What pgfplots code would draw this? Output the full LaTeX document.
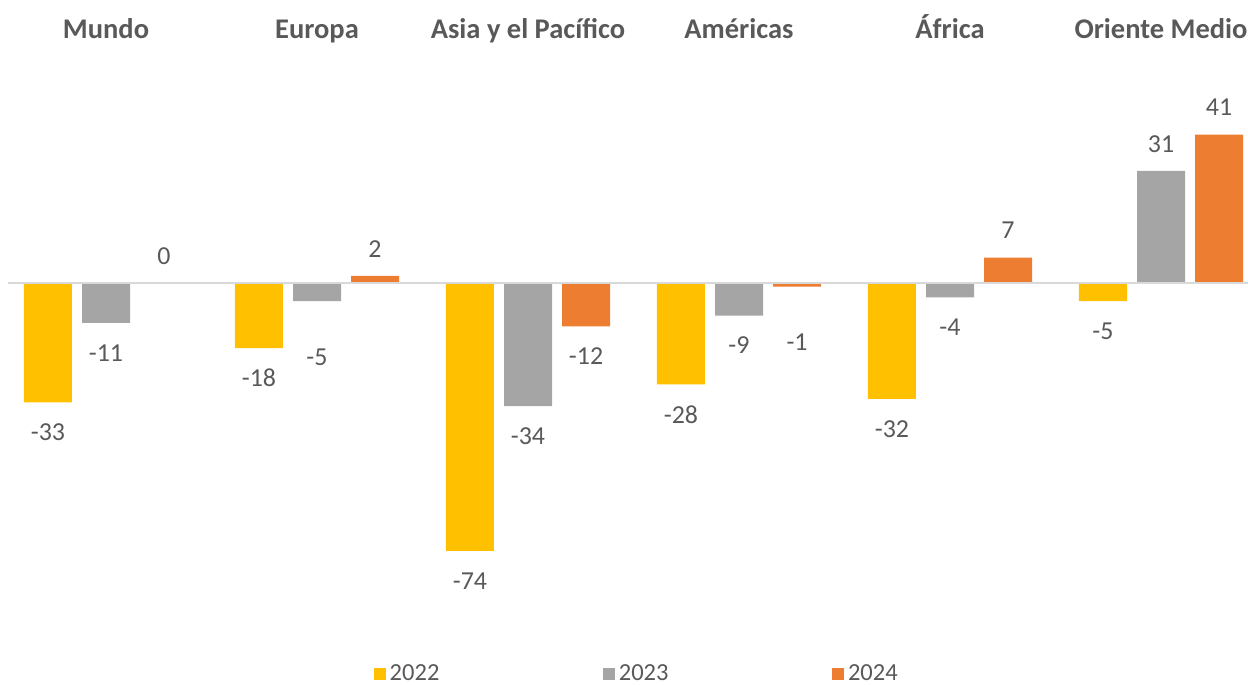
\documentclass[border=0pt]{standalone}
\usepackage{fontspec}
\setmainfont{Carlito}
\usepackage{pgfplots}
\usepackage{pgfplotstable}
\pgfplotsset{compat=1.18}
\definecolor{cY}{HTML}{FFC000}
\definecolor{cG}{HTML}{A5A5A5}
\definecolor{cO}{HTML}{ED7D31}
\definecolor{txt}{HTML}{595959}
\definecolor{zl}{HTML}{D9D9D9}
\pgfplotstableread{
x y off
0 -33 -15
1 -18 -15
2 -74 -15
3 -28 -15
4 -32 -15
5 -5 -15
}\tA
\pgfplotstableread{
x y off
0 -11 -15
1 -5 -28
2 -34 -15
3 -9 -15
4 -4 -15
5 31 13.5
}\tB
\pgfplotstableread{
x y off
0 0 13.5
1 2 13.5
2 -12 -15
3 -1 -28
4 7 13.5
5 41 13.5
}\tC
\begin{document}
\begin{tikzpicture}
\begin{axis}[
  scale only axis,
  width=624bp, height=342.5bp,
  xmin=-0.5024, xmax=5.4123,
  ymin=-111.05, ymax=78.18,
  axis line style={draw=none},
  tick style={draw=none},
  ytick=\empty,
  xtick={0,1,2,3,4,5},
  xticklabels={Mundo,Europa,Asia y el Pacífico,Américas,África,Oriente Medio},
  xticklabel pos=upper,
  xticklabel style={anchor=base, yshift=-23.5bp, font=\fontsize{14.3}{16}\selectfont\bfseries, text=txt},
  /pgf/number format/assume math mode=true,
  ybar,
  bar width=0.2275,
  nodes near coords,
  visualization depends on={\thisrow{off} \as \myoff},
  every node near coord/.append style={anchor=center, yshift=\myoff*1bp, font=\fontsize{13}{15}\selectfont, text=txt},
  legend columns=3,
  legend style={draw=none, fill=none, at={(0.511,0.016)}, anchor=center, font=\fontsize{12.3}{14}\selectfont, text=txt,
    /tikz/every even column/.append style={column sep=79.75bp}},
  legend image code/.code={\fill[#1] (0bp,-3bp) rectangle (6bp,3bp);},
]
\addplot[fill=cY, draw=none, bar shift=-0.275] table[x=x,y=y] {\tA};
\addplot[fill=cG, draw=none, bar shift=0] table[x=x,y=y] {\tB};
\addplot[fill=cO, draw=none, bar shift=0.275] table[x=x,y=y] {\tC};
\draw[zl, line width=0.75bp] (axis cs:-0.464,0) -- (axis cs:5.4123,0);
\coordinate (BL) at (rel axis cs:0,0);
\coordinate (TR) at (rel axis cs:1,1);
\legend{2022,2023,2024}
\end{axis}
\pgfresetboundingbox
\path[use as bounding box] (BL) rectangle (TR);
\end{tikzpicture}
\end{document}
